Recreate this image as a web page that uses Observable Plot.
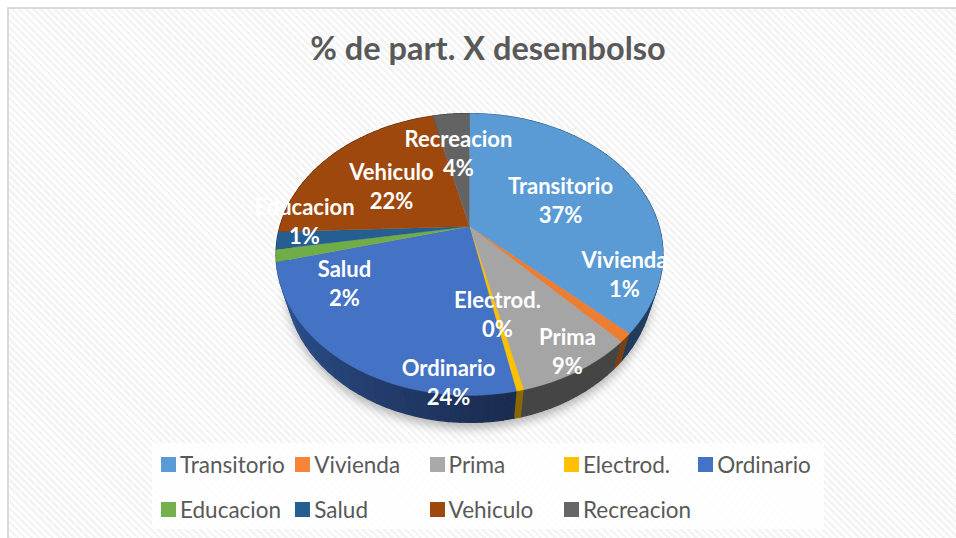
<!DOCTYPE html>
<html><head><meta charset="utf-8">
<script src="https://cdn.jsdelivr.net/npm/d3@7"></script>
<script src="https://cdn.jsdelivr.net/npm/@observablehq/plot@0.6"></script>
<style>
html,body{margin:0;padding:0;background:#fff}
#page{position:relative;width:956px;height:538px;overflow:hidden;box-sizing:border-box;
  font-family:Lato,"Noto Sans",sans-serif;background:#fff}
#frame{position:absolute;left:7px;top:7px;width:949px;height:531px;box-sizing:border-box;
  border-left:2px solid #d9d9d9;border-top:2px solid #d9d9d9;
  background:repeating-linear-gradient(45deg,#f4f4f4 0 2.5px,#fefefe 2.5px 5px)}
#title{position:absolute;left:10px;top:28px;width:956px;text-align:center;
  font-size:32.5px;font-weight:700;color:#595959;line-height:40px}
#chart{position:absolute;left:0;top:85px}
#legend{position:absolute;left:152px;top:443px;width:672px;height:86px;background:rgba(255,255,255,.82)}
.item{position:absolute;display:flex;align-items:center;height:30px;font-size:22.5px;color:#595959;white-space:nowrap}
.item i{display:block;width:15px;height:15px;margin-right:4px}
</style></head><body>
<div id="page"><div id="frame"></div><div id="title"></div><div id="chart"></div><div id="legend"></div></div>
<script>
const chartTitle = "% de part. X desembolso";
const names = ["Transitorio","Vivienda","Prima","Electrod.","Ordinario","Educacion","Salud","Vehiculo","Recreacion"];
const values = [37.0,1.0,8.3,0.5,24.2,1.4,2.0,21.9,3.7];
const percentLabels = ["37%","1%","9%","0%","24%","1%","2%","22%","4%"];
const topColors = ["#5b9bd5","#ed7d31","#a5a5a5","#ffc000","#4472c4","#70ad47","#255e91","#9e480e","#636363"];
const wallStart = ["#2f5a85","#7a4012","#454545","#8a6800","#1a2c50","#3a5a25","#14324e","#54260a","#343434"];
const wallEnd   = ["#1f3c5a","#7a4012","#454545","#8a6800","#2f5597","#3a5a25","#14324e","#54260a","#343434"];
const legendColors = ["#5b9bd5","#f8843a","#a9a9a9","#ffc000","#4472c4","#74b04b","#255e91","#9e480e","#666666"];

// annotation layout (centre of each two-line label, in page pixels)
const labelX = [560,624,567,497,448,304,344,391,458];
const labelY = [199,273,350,313,381,220,282,185,152];
const legendCol = [0,1,2,3,4,0,1,2,3];
const legendRow = [0,0,0,0,0,1,1,1,1];

// perspective view of the pie disc
const cx = 469, cy = 226, A = 189.6, B = 135.4, k = 0.1986, depth = 27, shrink = 0.95;
const project = (t, r = 1) => {
  const a = 2 * Math.PI * t, u = r * Math.sin(a), v = -r * Math.cos(a), w = 1 - k * v;
  return [cx + A * u / w, cy + B * v / w];
};
const lower = ([x, y]) => [cx + shrink * (x - cx), y + depth];

const arcs = d3.pie().sort(null).value(d => d)(values).map((d, i) => ({
  i, t0: d.startAngle / (2 * Math.PI), t1: d.endAngle / (2 * Math.PI)
}));
const ticks = (t0, t1, dt) => {
  const n = Math.max(1, Math.ceil((t1 - t0) / dt));
  return d3.range(n + 1).map(j => t0 + (t1 - t0) * j / n);
};

const topFace = arcs.flatMap(({i, t0, t1}) =>
  [[cx, cy], ...ticks(t0, t1, 0.002).map(t => project(t))]
    .map(([x, y]) => ({x, y, id: names[i], c: topColors[i]})));

const walls = arcs.flatMap(({i, t0, t1}) => {
  const ts = ticks(t0, t1, 0.008), shade = d3.interpolateRgb(wallStart[i], wallEnd[i]);
  return d3.pairs(ts).flatMap(([a, b], j) => {
    const c = shade(j / Math.max(1, ts.length - 2));
    return [project(a), project(b), lower(project(b)), lower(project(a))]
      .map(([x, y]) => ({x, y, id: `${i}-${j}`, c}));
  });
});

const shadow = ticks(0, 1, 0.004).map(t => lower(project(t))).map(([x, y]) => ({x, y: y + 6}));

const labels = names.map((n, i) => ({x: labelX[i], y: labelY[i], text: `${n}\n${percentLabels[i]}`}));

const plot = Plot.plot({
  width: 956, height: 358,
  marginTop: 0, marginRight: 0, marginBottom: 0, marginLeft: 0,
  x: {domain: [0, 956], range: [0, 956], axis: null},
  y: {domain: [85, 443], range: [0, 358], axis: null},
  color: {type: "identity"},
  style: {background: "transparent", overflow: "visible"},
  marks: [
    Plot.line(shadow, {x: "x", y: "y", fill: "#8c8c8c", stroke: "none", fillOpacity: 0.6, imageFilter: "blur(5px)"}),
    Plot.line(walls, {x: "x", y: "y", z: "id", fill: "c", stroke: "c", strokeWidth: 1.2}),
    Plot.line(topFace, {x: "x", y: "y", z: "id", fill: "c", stroke: "c", strokeWidth: 0.3}),
    Plot.text(labels, {x: "x", y: "y", text: "text", fill: "#fff", fontSize: 22, fontWeight: 700,
      fontFamily: "Lato, 'Noto Sans', sans-serif", lineHeight: 1.33})
  ]
});
document.getElementById("chart").append(plot);
document.getElementById("title").textContent = chartTitle;
const legend = document.getElementById("legend");
names.forEach((n, i) => {
  const el = document.createElement("div");
  el.className = "item";
  el.style.left = (9 + 134.3 * legendCol[i]) + "px";
  el.style.top = (6 + 45 * legendRow[i]) + "px";
  const sw = document.createElement("i");
  sw.style.background = legendColors[i];
  el.append(sw, n);
  legend.append(el);
});
</script>
</body></html>
